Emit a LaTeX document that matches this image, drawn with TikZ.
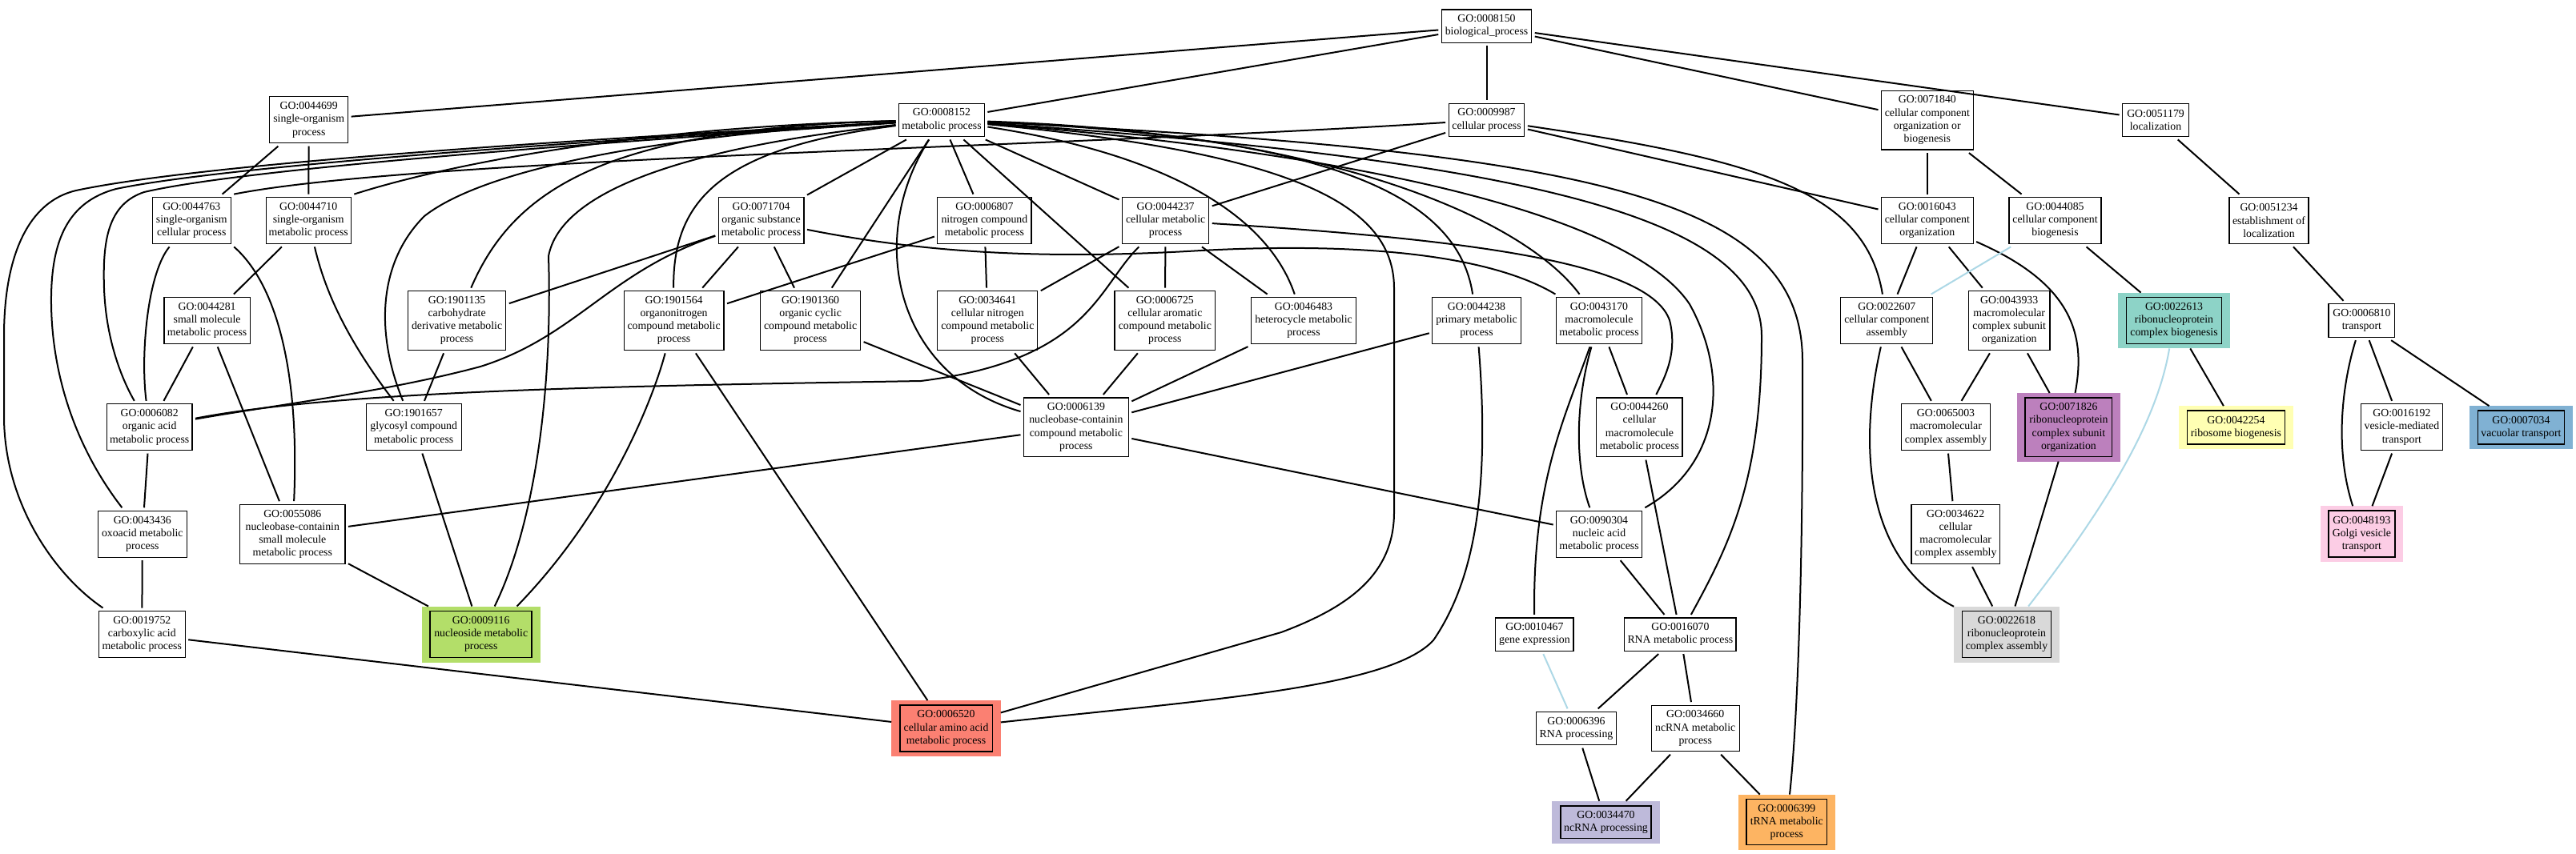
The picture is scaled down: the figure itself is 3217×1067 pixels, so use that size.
\documentclass[tikz,border=0pt]{standalone}
\usepackage{fontspec}
\newfontfamily\gofamily{Liberation Serif}
\newcommand\gofnt{\gofamily\fontsize{13.8}{16.2}\selectfont}
\definecolor{cteal}{HTML}{8DD3C7}
\definecolor{cyel}{HTML}{FFFFB3}
\definecolor{cpur}{HTML}{BC80BD}
\definecolor{cblu}{HTML}{80B1D3}
\definecolor{cpnk}{HTML}{FCCDE5}
\definecolor{cgry}{HTML}{D9D9D9}
\definecolor{cgrn}{HTML}{B3DE69}
\definecolor{csal}{HTML}{FB8072}
\definecolor{clav}{HTML}{BEBADA}
\definecolor{corg}{HTML}{FDB462}
\definecolor{clb}{HTML}{ADD8E6}
\tikzset{
  gobx/.style={draw=black, line width=1.2pt, fill=white, inner sep=0pt, outer sep=4pt, align=center, font=\gofnt},
  gohl/.style={fill=#1, draw=none, inner sep=0pt, outer sep=0pt, align=center, font=\gofnt,
    path picture={\draw[line width=1.6pt] ([xshift=10.5pt,yshift=-6pt]path picture bounding box.north west) rectangle ([xshift=-10.5pt,yshift=6pt]path picture bounding box.south east);}},
  ed/.style={line width=2pt, black},
  lb/.style={line width=2pt, clb}
}
\newcommand\gobox[6]{\node[gobx, minimum width=#4pt, minimum height=#5pt] (#1) at (#2,#3) {#6};}
\newcommand\gohil[7]{\node[gohl=#7, minimum width=#4pt, minimum height=#5pt] (#1) at (#2,#3) {#6};}
\begin{document}
\begin{tikzpicture}[x=1pt,y=-1pt]
\fill[white] (0,0) rectangle (3217,1067);
\useasboundingbox (0,0) rectangle (3217,1067);
% row 0
\gobox{n8150}{1856.5}{32.7}{112.5}{41.3}{GO:0008150\\biological\_process}
% row 1
\gobox{n44699}{385.7}{149.8}{97.8}{57.8}{GO:0044699\\single-organism\\process}
\gobox{n8152}{1176}{149.8}{106.7}{41.3}{GO:0008152\\metabolic process}
\gobox{n9987}{1856.5}{149.8}{94.7}{41.3}{GO:0009987\\cellular process}
\gobox{n71840}{2406.8}{150.2}{114.6}{73.7}{GO:0071840\\cellular component\\organization or\\biogenesis}
\gobox{n51179}{2692}{149.8}{82.8}{41.3}{GO:0051179\\localization}
% row 2
\gobox{n44763}{239.3}{275.5}{97.8}{57.8}{GO:0044763\\single-organism\\cellular process}
\gobox{n44710}{385.2}{275.5}{106.2}{57.8}{GO:0044710\\single-organism\\metabolic process}
\gobox{n71704}{950.6}{275.5}{106.7}{57.8}{GO:0071704\\organic substance\\metabolic process}
\gobox{n6807}{1229.4}{275.5}{117.2}{57.8}{GO:0006807\\nitrogen compound\\metabolic process}
\gobox{n44237}{1455.6}{275.5}{108.3}{57.8}{GO:0044237\\cellular metabolic\\process}
\gobox{n16043}{2406.8}{275.5}{114.6}{57.8}{GO:0016043\\cellular component\\organization}
\gobox{n44085}{2566.5}{275.5}{115.1}{57.8}{GO:0044085\\cellular component\\biogenesis}
\gobox{n51234}{2833.5}{275.5}{99}{57.8}{GO:0051234\\establishment of\\localization}
% row 3
\gobox{n44281}{258.6}{400.5}{107.2}{57.8}{GO:0044281\\small molecule\\metabolic process}
\gobox{n1901135}{570.6}{400.5}{122.4}{73.7}{GO:1901135\\carbohydrate\\derivative metabolic\\process}
\gobox{n1901564}{841.6}{400.5}{124.8}{73.7}{GO:1901564\\organonitrogen\\compound metabolic\\process}
\gobox{n1901360}{1012.1}{400.5}{125}{73.7}{GO:1901360\\organic cyclic\\compound metabolic\\process}
\gobox{n34641}{1233.3}{400.5}{125}{73.7}{GO:0034641\\cellular nitrogen\\compound metabolic\\process}
\gobox{n6725}{1454.8}{400.5}{125.5}{73.7}{GO:0006725\\cellular aromatic\\compound metabolic\\process}
\gobox{n46483}{1628}{400.5}{131}{57.8}{GO:0046483\\heterocycle metabolic\\process}
\gobox{n44238}{1844}{400.5}{110.4}{57.8}{GO:0044238\\primary metabolic\\process}
\gobox{n43170}{1997}{400.5}{106.7}{57.8}{GO:0043170\\macromolecule\\metabolic process}
\gobox{n22607}{2356.3}{400.5}{115.1}{57.8}{GO:0022607\\cellular component\\assembly}
\gobox{n43933}{2509.2}{400.5}{101.6}{73.7}{GO:0043933\\macromolecular\\complex subunit\\organization}
\gohil{n22613}{2715}{400.5}{140.3}{69.9}{GO:0022613\\ribonucleoprotein\\complex biogenesis}{cteal}
\gobox{n6810}{2949.4}{400.5}{82.8}{41.3}{GO:0006810\\transport}
% row 4
\gobox{n6082}{186.7}{533.7}{106.7}{57.7}{GO:0006082\\organic acid\\metabolic process}
\gobox{n1901657}{516.7}{533.7}{119.2}{57.7}{GO:1901657\\glycosyl compound\\metabolic process}
\gobox{n6139}{1343.9}{533.8}{130.8}{73.6}{GO:0006139\\nucleobase-containin\\compound metabolic\\process}
\gobox{n44260}{2047.4}{533.8}{107.2}{73.6}{GO:0044260\\cellular\\macromolecule\\metabolic process}
\gobox{n65003}{2430}{533.7}{110.8}{57.7}{GO:0065003\\macromolecular\\complex assembly}
\gohil{n71826}{2583.4}{533.8}{129.4}{85.6}{GO:0071826\\ribonucleoprotein\\complex subunit\\organization}{cpur}
\gohil{n42254}{2792.4}{534}{142.9}{53.7}{GO:0042254\\ribosome biogenesis}{cyel}
\gobox{n16192}{2999.4}{533.7}{102.6}{57.7}{GO:0016192\\vesicle-mediated\\transport}
\gohil{n7034}{3148.4}{534}{128.8}{53.7}{GO:0007034\\vacuolar transport}{cblu}
% row 5
\gobox{n43436}{177.8}{667.2}{110.9}{57.9}{GO:0043436\\oxoacid metabolic\\process}
\gobox{n55086}{365.3}{667.2}{131.3}{74}{GO:0055086\\nucleobase-containin\\small molecule\\metabolic process}
\gobox{n90304}{1997}{667.2}{106.7}{57.9}{GO:0090304\\nucleic acid\\metabolic process}
\gobox{n34622}{2442.2}{667.2}{110.4}{74}{GO:0034622\\cellular\\macromolecular\\complex assembly}
\gohil{n48193}{2949.4}{667.2}{103.8}{69.9}{GO:0048193\\Golgi vesicle\\transport}{cpnk}
% row 6
\gobox{n19752}{177.3}{792.5}{107.8}{58}{GO:0019752\\carboxylic acid\\metabolic process}
\gohil{n9116}{600.7}{792.5}{148.1}{70}{GO:0009116\\nucleoside metabolic\\process}{cgrn}
\gobox{n10467}{1916.4}{792.5}{97.3}{41.2}{GO:0010467\\gene expression}
\gobox{n16070}{2098.4}{792.5}{139.1}{41.2}{GO:0016070\\RNA metabolic process}
\gohil{n22618}{2506}{792.5}{132}{70}{GO:0022618\\ribonucleoprotein\\complex assembly}{cgry}
% row 7
\gohil{n6520}{1181.5}{909.9}{136.6}{69.6}{GO:0006520\\cellular amino acid\\metabolic process}{csal}
\gobox{n6396}{1968.5}{910}{99.9}{41.2}{GO:0006396\\RNA processing}
\gobox{n34660}{2117.2}{909.9}{109.9}{57.6}{GO:0034660\\ncRNA metabolic\\process}
% row 8
\gohil{n34470}{2005.5}{1027.1}{134.5}{52.8}{GO:0034470\\ncRNA processing}{clav}
\gohil{n6399}{2231.3}{1027.1}{121.4}{69}{GO:0006399\\tRNA metabolic\\process}{corg}
% ---------------- edges ----------------
\draw[ed] (n8150) -- (n44699);
\draw[ed] (n8150) -- (n8152);
\draw[ed] (n8150) -- (n9987);
\draw[ed] (n8150) -- (n71840);
\draw[ed] (n8150) -- (n51179);
\draw[ed] (n44699) -- (n44763);
\draw[ed] (n44699) -- (n44710);
\draw[ed] (n9987) .. controls (1300,185) and (520,198) .. (n44763.north east);
\draw[ed] (n9987) -- (n44237);
\draw[ed] (n9987) -- (n16043);
\draw[ed] (n9987) .. controls (2200,200) and (2330,240) .. (n22607);
\draw[ed] (n71840) -- (n16043);
\draw[ed] (n71840) -- (n44085);
\draw[ed] (n51179) -- (n51234);
\draw[ed] (n51234) -- (n6810);
\draw[ed] (n6810) .. controls (2925,480) and (2915,560) .. (n48193);
\draw[ed] (n6810) -- (n16192);
\draw[ed] (n6810) -- (n7034);
\draw[ed] (n16192) -- (n48193);
\draw[ed] (n16043) -- (n22607);
\draw[ed] (n16043) -- (n43933);
\draw[ed] (n16043) .. controls (2590,355) and (2605,420) .. (n71826);
\draw[lb] (n44085) -- (n22607);
\draw[ed] (n44085) -- (n22613);
\draw[ed] (n43933) -- (n65003);
\draw[ed] (n43933) -- (n71826);
\draw[ed] (n22607) -- (n65003);
\draw[ed] (n22607) .. controls (2320,560) and (2330,700) .. (n22618);
\draw[ed] (n65003) -- (n34622);
\draw[ed] (n34622) -- (n22618);
\draw[ed] (n71826) -- (n22618);
\draw[ed] (n22613) -- (n42254);
\draw[lb] (n22613) .. controls (2695,520) and (2640,620) .. (n22618);
% metabolic process
\draw[ed] (n8152) -- (n71704);
\draw[ed] (n8152) -- (n6807);
\draw[ed] (n8152) -- (n1901360);
\draw[ed] (n8152) .. controls (1080,300) and (1120,470) .. (n6139);
\draw[ed] (n8152) .. controls (900,185) and (840,250) .. (n1901564);
\draw[ed] (n8152) -- (n44237);
\draw[ed] (n8152) -- (n6725);
\draw[ed] (n8152) .. controls (1440,190) and (1580,260) .. (n46483);
\draw[ed] (n8152) .. controls (1650,165) and (1900,270) .. (n43170);
\draw[ed] (n8152) .. controls (1650,170) and (1820,240) .. (n44238);
\draw[ed] (n8152) .. controls (1600,190) and (1741,250) .. (1741,360) -- (1741,640) .. controls (1741,720) and (1680,760) .. (1600,790) -- (n6520);
\draw[ed] (n8152) .. controls (1800,200) and (2050,290) .. (2110,380) .. controls (2160,470) and (2150,580) .. (n90304.north east);
\draw[ed] (n8152) .. controls (1900,200) and (2200,270) .. (2200,420) .. controls (2200,600) and (2160,680) .. (n16070);
\draw[ed] (n8152) .. controls (2000,190) and (2250,250) .. (2251,450) .. controls (2252,700) and (2245,900) .. (n6399);
\draw[ed] (n8152) .. controls (800,158) and (560,205) .. (n44710.north east);
\draw[ed] (n8152) .. controls (700,175) and (250,205) .. (95,238) .. controls (35,252) and (5,320) .. (5,420) -- (5,520) .. controls (5,630) and (70,720) .. (n19752);
\draw[ed] (n8152) .. controls (700,178) and (280,208) .. (145,236) .. controls (85,252) and (63,300) .. (64,380) .. controls (65,470) and (95,560) .. (n43436);
\draw[ed] (n8152) .. controls (700,181) and (300,212) .. (180,240) .. controls (135,255) and (128,300) .. (130,360) .. controls (132,420) and (150,470) .. (n6082);
\draw[ed] (n8152) .. controls (800,170) and (600,215) .. (530,270) .. controls (470,330) and (470,420) .. (n1901657);
\draw[ed] (n8152) .. controls (750,160) and (640,240) .. (n1901135);
\draw[ed] (n8152) .. controls (850,185) and (700,240) .. (685,320) .. controls (690,480) and (670,650) .. (n9116);
% organic substance
\draw[ed] (n71704) -- (n1901564);
\draw[ed] (n71704) -- (n1901360);
\draw[ed] (n71704) -- (n1901135);
\draw[ed] (n71704) .. controls (760,340) and (720,420) .. (600,458) .. controls (480,490) and (350,505) .. (n6082);
\draw[ed] (n71704) .. controls (1150,315) and (1300,325) .. (1500,313) .. controls (1750,300) and (1880,330) .. (n43170);
\draw[ed] (n6807) -- (n1901564);
\draw[ed] (n6807) -- (n34641);
% cellular metabolic
\draw[ed] (n44237) -- (n34641);
\draw[ed] (n44237) .. controls (1370,360) and (1360,450) .. (1150,476) .. controls (800,482) and (430,487) .. (n6082);
\draw[ed] (n44237) -- (n6725);
\draw[ed] (n44237) -- (n46483);
\draw[ed] (n44237) .. controls (1850,300) and (2060,330) .. (2085,400) .. controls (2095,440) and (2080,470) .. (n44260);
% left area
\draw[ed] (n44763) .. controls (185,340) and (175,440) .. (n6082);
\draw[ed] (n44763.south east) .. controls (340,350) and (375,450) .. (n55086);
\draw[ed] (n44710) -- (n44281);
\draw[ed] (n44710) .. controls (405,360) and (430,420) .. (n1901657);
\draw[ed] (n44281) -- (n6082);
\draw[ed] (n44281) -- (n55086);
\draw[ed] (n1901135) -- (n1901657);
\draw[ed] (n6082) -- (n43436);
\draw[ed] (n43436) -- (n19752);
\draw[ed] (n55086) -- (n9116);
\draw[ed] (n1901657) -- (n9116);
\draw[ed] (n1901564) .. controls (815,500) and (760,640) .. (n9116.38);
\draw[ed] (n1901564) -- (n6520);
\draw[ed] (n19752) -- (n6520);
\draw[ed] (n1901360) -- (n6139);
\draw[ed] (n34641) -- (n6139);
\draw[ed] (n6725) -- (n6139);
\draw[ed] (n46483) -- (n6139);
\draw[ed] (n44238) -- (n6139);
\draw[ed] (n6139) -- (n55086);
\draw[ed] (n6139) -- (n90304);
\draw[ed] (n44238) .. controls (1860,600) and (1845,720) .. (1790,800) .. controls (1735,860) and (1500,875) .. (n6520);
% RNA area
\draw[ed] (n43170) -- (n44260);
\draw[ed] (n43170) .. controls (1955,520) and (1914,600) .. (n10467);
\draw[ed] (n43170) .. controls (1968,500) and (1966,580) .. (n90304);
\draw[ed] (n44260) -- (n16070);
\draw[ed] (n90304) -- (n16070);
\draw[ed] (n16070) -- (n6396);
\draw[ed] (n16070) -- (n34660);
\draw[lb] (n10467) -- (n6396);
\draw[ed] (n6396) -- (n34470);
\draw[ed] (n34660) -- (n34470);
\draw[ed] (n34660) -- (n6399);
\end{tikzpicture}
\end{document}
